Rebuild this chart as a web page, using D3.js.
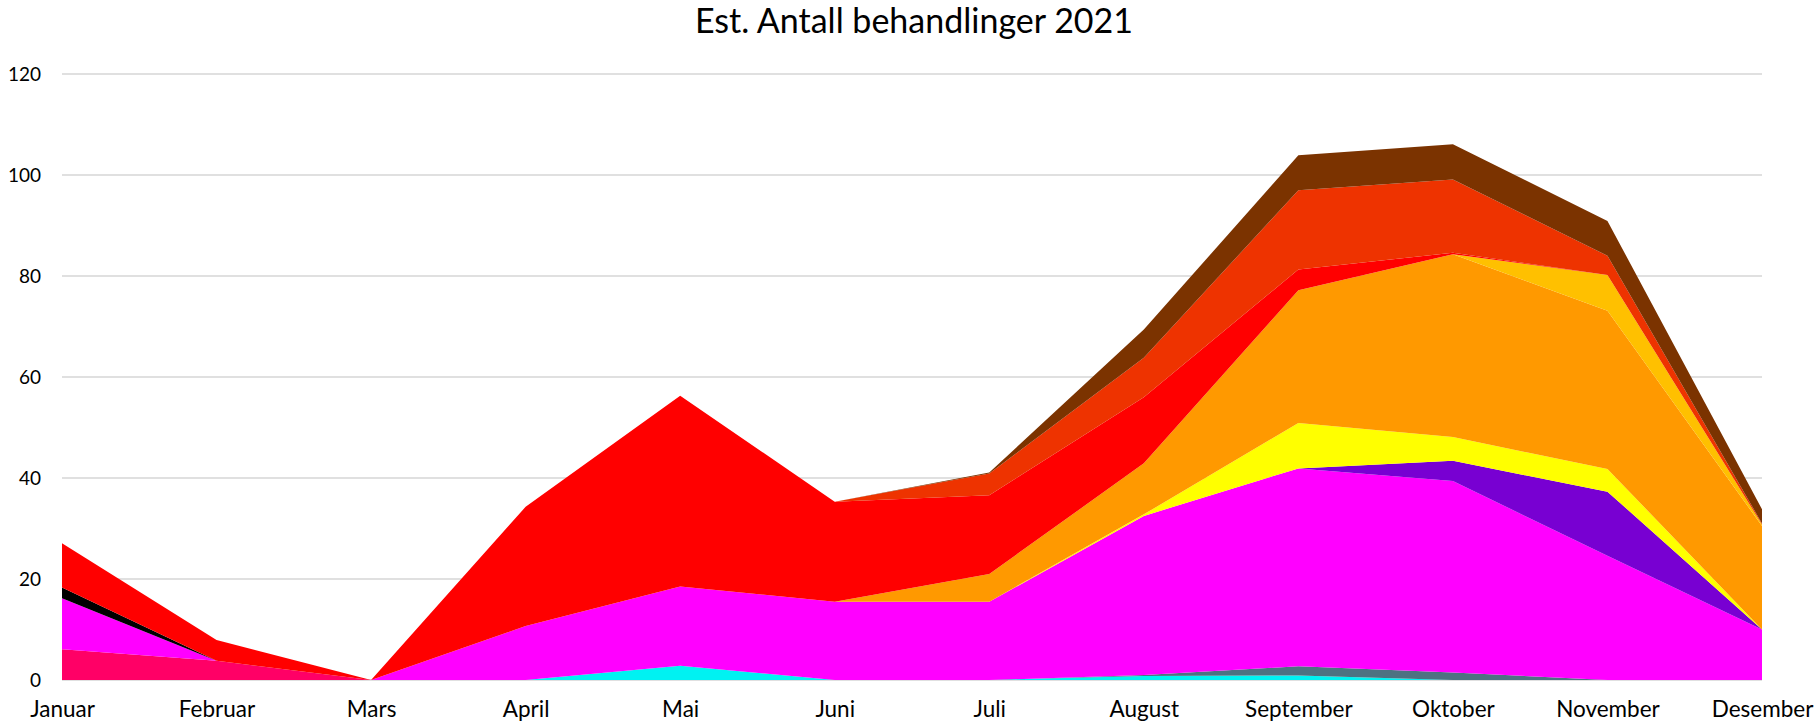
<!DOCTYPE html>
<html>
<head>
<meta charset="utf-8">
<script src="https://d3js.org/d3.v7.min.js"></script>
<style>
  body { margin: 0; background: #fff; }
  text { font-family: Lato, "Open Sans", sans-serif; }
</style>
</head>
<body>
<div id="chart"></div>
<script>
// months on the x axis
var months = ["Januar", "Februar", "Mars", "April", "Mai", "Juni", "Juli",
              "August", "September", "Oktober", "November", "Desember"];

// series, bottom to top of the stack
var cyan      = [0,    0,   0, 0,    2.8,  0,    0,    0.8,  0.9,  0,    0,    0];
var teal      = [0,    0,   0, 0,    0,    0,    0,    0.2,  1.8,  1.5,  0,    0];
var crimson   = [6.1,  3.8, 0, 0,    0,    0,    0,    0,    0,    0,    0,    0];
var magenta   = [10.1, 0,   0, 10.7, 15.7, 15.5, 15.5, 31.5, 39.2, 37.9, 24.6, 10];
var black     = [2.1,  0,   0, 0,    0,    0,    0,    0,    0,    0,    0,    0];
var purple    = [0,    0,   0, 0,    0,    0,    0,    0,    0,    4.0,  12.7, 0];
var yellow    = [0,    0,   0, 0,    0,    0,    0,    0.3,  9.0,  4.7,  4.5,  0];
var orange    = [0,    0,   0, 0,    0,    0,    5.5,  10.1, 26.3, 36.2, 31.3, 20.5];
var gold      = [0,    0,   0, 0,    0,    0,    0,    0,    0,    0,    7.1,  0.3];
var red       = [8.8,  4.1, 0, 23.6, 37.8, 19.8, 15.6, 13.1, 4.1,  0.3,  0,    0];
var orangeRed = [0,    0,   0, 0,    0,    0,    4.3,  7.8,  15.7, 14.5, 3.8,  0.2];
var brown     = [0,    0,   0, 0,    0,    0,    0.2,  5.6,  6.9,  7.0,  6.9,  2.8];

var seriesNames  = ["cyan", "teal", "crimson", "magenta", "black", "purple",
                    "yellow", "orange", "gold", "red", "orangeRed", "brown"];
var seriesValues = [cyan, teal, crimson, magenta, black, purple,
                    yellow, orange, gold, red, orangeRed, brown];
var seriesColors = ["#00f2f2", "#4d7282", "#ff0066", "#ff00ff", "#000000", "#7800d2",
                    "#ffff00", "#ff9900", "#ffc000", "#ff0000", "#ee3300", "#7b3300"];

var yTicks = [0, 20, 40, 60, 80, 100, 120];

const W = 1814, H = 727;

var rows = months.map(function(m, i) {
  var r = { month: m };
  seriesNames.forEach(function(k, j) { r[k] = seriesValues[j][i]; });
  return r;
});

var svg = d3.select("#chart").append("svg")
  .attr("width", W)
  .attr("height", H);

var x = d3.scalePoint().domain(months).range([62, 1762]);
var y = d3.scaleLinear().domain([0, 120]).range([680, 74]);

drawGrid();
drawAreas();
drawAxes();
drawTitle();

function drawGrid() {
  svg.append("g")
    .selectAll("line")
    .data(yTicks)
    .enter().append("line")
      .attr("x1", 62)
      .attr("x2", 1762)
      .attr("y1", function(d) { return y(d); })
      .attr("y2", function(d) { return y(d); })
      .attr("stroke", "#e0e0e0")
      .attr("stroke-width", 2);
}

function drawAreas() {
  var stack = d3.stack().keys(seriesNames);
  var layers = stack(rows);

  var area = d3.area()
    .x(function(d) { return x(d.data.month); })
    .y0(function(d) { return y(d[0]); })
    .y1(function(d) { return y(d[1]); });

  svg.append("g")
    .selectAll("path")
    .data(layers)
    .enter().append("path")
      .attr("d", area)
      .attr("fill", function(d, i) { return seriesColors[i]; });
}

function drawAxes() {
  // y axis: labels only
  var yAxis = svg.append("g")
    .attr("transform", "translate(41,0)")
    .call(d3.axisLeft(y).tickValues(yTicks).tickSize(0).tickPadding(0));
  yAxis.select(".domain").remove();
  yAxis.selectAll("text")
    .attr("font-size", 19)
    .attr("fill", "#000")
    .style("font-family", "Lato, sans-serif");

  // x axis: labels only
  var xAxis = svg.append("g")
    .attr("transform", "translate(0,701)")
    .call(d3.axisBottom(x).tickSize(0).tickPadding(0));
  xAxis.select(".domain").remove();
  xAxis.selectAll("text")
    .attr("font-size", 22.5)
    .attr("fill", "#000")
    .style("font-family", "Lato, sans-serif");
}

function drawTitle() {
  svg.append("text")
    .attr("x", 914)
    .attr("y", 33)
    .attr("text-anchor", "middle")
    .attr("font-size", 34)
    .attr("fill", "#000")
    .text("Est. Antall behandlinger 2021");
}
</script>
</body>
</html>
